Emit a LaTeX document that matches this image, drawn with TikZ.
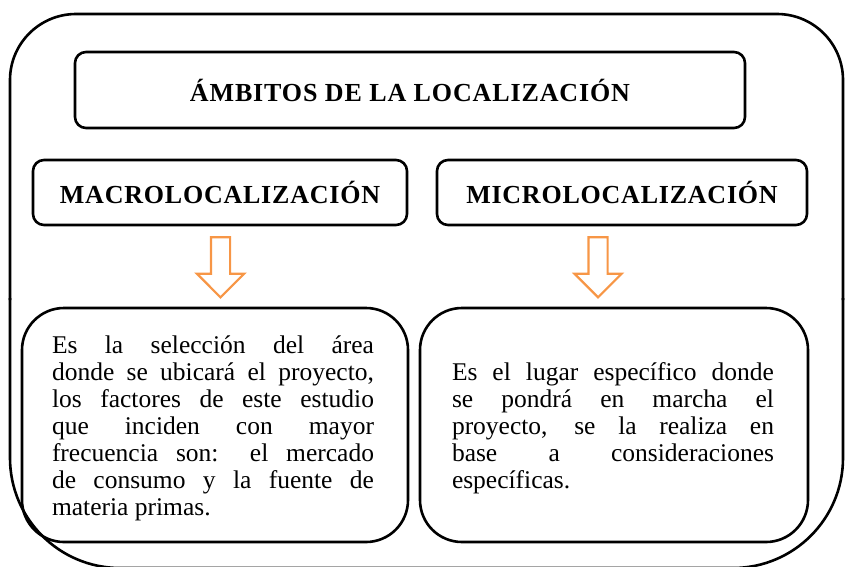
\documentclass[tikz,border=0pt]{standalone}
\usepackage{fontspec}
\setmainfont{Liberation Serif}
\usetikzlibrary{shapes.arrows,calc}
\definecolor{arroworange}{HTML}{F79646}
\tikzset{
  frame/.style={draw, line width=2.6pt, rounded corners=#1},
  headbox/.style={frame=11pt, font=\fontsize{26}{28}\selectfont\bfseries, inner sep=0pt},
  descbox/.style={frame=42pt, inner sep=0pt, minimum height=234pt},
  desctext/.style={inner sep=0pt, font=\fontsize{25.5}{27}\selectfont, align=left},
  downarrow/.style={single arrow, draw=arroworange, line width=2.2pt, fill=white,
    shape border rotate=270, minimum width=45pt, minimum height=60pt,
    inner sep=8.5pt, single arrow head extend=14pt, single arrow tip angle=90},
}
\newcommand{\jline}[1]{\makebox[322pt][s]{#1}}
\begin{document}
\begin{tikzpicture}[x=1pt,y=-1pt]
\useasboundingbox (0,0) rectangle (846,566);
\draw[frame=66pt] (10,300) -- (10,14) -- (843,14) -- (843,300);
\draw[frame=110pt] (10,298) -- (10,568) -- (843,568) -- (843,298);
\node[headbox, minimum width=670pt, minimum height=76pt] (title) at (410,90)
  {\addfontfeature{LetterSpace=3.4}ÁMBITOS DE LA LOCALIZACIÓN};
\node[headbox, minimum width=374pt, minimum height=65pt] (macro) at (220,192.5)
  {\addfontfeature{LetterSpace=3}MACROLOCALIZACIÓN};
\node[headbox, minimum width=370pt, minimum height=65pt] (micro) at (622,192.5)
  {\addfontfeature{LetterSpace=3}MICROLOCALIZACIÓN};
\node[descbox, minimum width=386pt] (ldesc) at (215,425) {};
\node[descbox, minimum width=388pt] (rdesc) at (614,425) {};
\node[downarrow] (larrow) at ($(macro.south)!0.5!(ldesc.north)+(3,-4)$) {};
\node[downarrow] (rarrow) at ($(micro.south)!0.5!(rdesc.north)+(-20,-4)$) {};
\node[desctext] (ltext) at (213,428) {%
\jline{Es la selección del área}\\
\jline{donde se ubicará el proyecto,}\\
\jline{los factores de este estudio}\\
\jline{que inciden con mayor}\\
\jline{frecuencia son: el mercado}\\
\jline{de consumo y la fuente de}\\
materia primas.};
\node[desctext] (rtext) at (613,428) {%
\jline{Es el lugar específico donde}\\
\jline{se pondrá en marcha el}\\
\jline{proyecto, se la realiza en}\\
\jline{base a consideraciones}\\
específicas.};
\end{tikzpicture}
\end{document}
